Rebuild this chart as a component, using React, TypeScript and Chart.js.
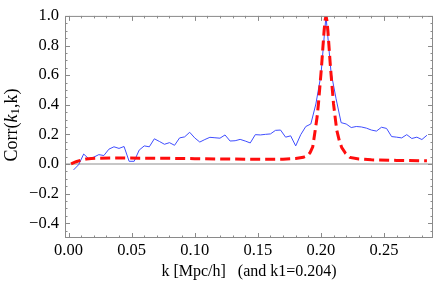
import { useEffect, useRef } from "react";
import { Chart, registerables } from "chart.js";

Chart.register(...registerables);

// k grid of the measured correlation (Mpc/h)
const kValues = [
  0.004, 0.008, 0.012, 0.016, 0.020, 0.024, 0.028, 0.032, 0.036, 0.040,
  0.044, 0.048, 0.052, 0.056, 0.060, 0.064, 0.068, 0.072, 0.076, 0.080,
  0.084, 0.088, 0.092, 0.096, 0.100, 0.104, 0.108, 0.112, 0.116, 0.120,
  0.124, 0.128, 0.132, 0.136, 0.140, 0.144, 0.148, 0.152, 0.156, 0.160,
  0.164, 0.168, 0.172, 0.176, 0.180, 0.184, 0.188, 0.192, 0.196, 0.200,
  0.204, 0.208, 0.212, 0.216, 0.220, 0.224, 0.228, 0.232, 0.236, 0.240,
  0.244, 0.248, 0.252, 0.256, 0.260, 0.264, 0.268, 0.272, 0.276, 0.280,
  0.284,
];

// measured Corr(k1,k) (blue)
const measuredCorr = [
  -0.04, -0.005, 0.067, 0.035, 0.046, 0.063, 0.057, 0.100, 0.116, 0.105,
  0.118, 0.018, 0.018, 0.094, 0.122, 0.116, 0.170, 0.152, 0.133, 0.144,
  0.126, 0.176, 0.183, 0.214, 0.176, 0.148, 0.165, 0.180, 0.177, 0.174,
  0.196, 0.155, 0.157, 0.166, 0.155, 0.142, 0.198, 0.196, 0.200, 0.203,
  0.227, 0.229, 0.181, 0.190, 0.122, 0.198, 0.253, 0.270, 0.405, 0.600,
  1.000, 0.620, 0.440, 0.279, 0.270, 0.246, 0.253, 0.250, 0.242, 0.229,
  0.222, 0.248, 0.240, 0.185, 0.181, 0.176, 0.198, 0.172, 0.181, 0.165,
  0.194,
];

// model curve (red dashed)
const modelK = [
  0.002, 0.006, 0.010, 0.014, 0.018, 0.024, 0.040, 0.060, 0.080, 0.100,
  0.120, 0.140, 0.155, 0.170, 0.180, 0.186, 0.1895, 0.1915, 0.1935, 0.1955,
  0.197, 0.198, 0.1993, 0.2005, 0.2015, 0.2025, 0.2033, 0.204, 0.2047, 0.2055,
  0.2065, 0.2075, 0.2087, 0.2100, 0.2112, 0.2125, 0.2145, 0.2165, 0.2195, 0.2230,
  0.2300, 0.2400, 0.2600, 0.2840,
];
const modelCorr = [
  0.000, 0.015, 0.026, 0.033, 0.037, 0.039, 0.040, 0.039, 0.038, 0.036,
  0.034, 0.032, 0.031, 0.032, 0.037, 0.045, 0.057, 0.078, 0.115, 0.230,
  0.320, 0.405, 0.536, 0.660, 0.780, 0.900, 0.970, 1.000, 0.970, 0.900,
  0.780, 0.660, 0.536, 0.405, 0.320, 0.230, 0.160, 0.110, 0.072, 0.044,
  0.034, 0.028, 0.024, 0.021,
];

const xTickValues = [0.0, 0.05, 0.1, 0.15, 0.2, 0.25];
const yTickValues = [-0.4, -0.2, 0.0, 0.2, 0.4, 0.6, 0.8, 1.0];

const X_MIN = -0.0028;
const X_MAX = 0.2888;
const Y_MIN = -0.5;
const Y_MAX = 1.0;

const SERIF = "'Liberation Serif', 'DejaVu Serif', serif";
const TICK_SIZE = 16.5;
const TITLE_SIZE = 16;
const YTITLE_SIZE = 18;
const FRAME_COLOR = "#8a8a8a";

const framePlugin = {
  id: "mmaFrame",
  beforeDatasetsDraw(chart: any) {
    const { ctx, chartArea, scales } = chart;
    const y0 = scales.y.getPixelForValue(0);
    ctx.save();
    ctx.strokeStyle = "#b4b4b4";
    ctx.lineWidth = 1.5;
    ctx.beginPath();
    ctx.moveTo(chartArea.left, y0);
    ctx.lineTo(chartArea.right, y0);
    ctx.stroke();
    ctx.restore();
  },
  afterDatasetsDraw(chart: any) {
    const { ctx, chartArea, scales } = chart;
    const { left, right, top, bottom } = chartArea;
    ctx.save();
    ctx.strokeStyle = FRAME_COLOR;
    ctx.lineWidth = 1;
    ctx.strokeRect(left + 0.5, top + 0.5, right - left - 1, bottom - top - 1);

    ctx.beginPath();
    for (let i = 0; i <= 28; i++) {
      const v = i * 0.01;
      const px = Math.round(scales.x.getPixelForValue(v)) + 0.5;
      if (px < left || px > right) continue;
      const len = i % 5 === 0 ? 5 : 2.5;
      ctx.moveTo(px, bottom);
      ctx.lineTo(px, bottom - len);
      ctx.moveTo(px, top);
      ctx.lineTo(px, top + len);
    }
    for (let i = -10; i <= 20; i++) {
      const v = i * 0.05;
      const py = Math.round(scales.y.getPixelForValue(v)) + 0.5;
      if (py < top || py > bottom) continue;
      const len = i % 4 === 0 ? 5 : 2.5;
      ctx.moveTo(left, py);
      ctx.lineTo(left + len, py);
      ctx.moveTo(right, py);
      ctx.lineTo(right - len, py);
    }
    ctx.stroke();

    ctx.fillStyle = "#000";
    ctx.textBaseline = "middle";
    ctx.textAlign = "center";
    ctx.font = `${TITLE_SIZE}px ${SERIF}`;
    ctx.fillText("k [Mpc/h]   (and k1=0.204)", (left + right) / 2, 272);

    const parts = [
      { t: "Corr(", f: `${YTITLE_SIZE}px ${SERIF}`, dy: 0 },
      { t: "k", f: `italic ${YTITLE_SIZE}px ${SERIF}`, dy: 0 },
      { t: "1", f: `${YTITLE_SIZE * 0.72}px ${SERIF}`, dy: 4 },
      { t: ",k)", f: `${YTITLE_SIZE}px ${SERIF}`, dy: 0 },
    ];
    let total = 0;
    const widths: number[] = [];
    for (const p of parts) {
      ctx.font = p.f;
      const w = ctx.measureText(p.t).width;
      widths.push(w);
      total += w;
    }
    ctx.translate(12, (top + bottom) / 2 - 2);
    ctx.rotate(-Math.PI / 2);
    ctx.textAlign = "left";
    let x = -total / 2;
    parts.forEach((p, i) => {
      ctx.font = p.f;
      ctx.fillText(p.t, x, p.dy);
      x += widths[i];
    });
    ctx.restore();
  },
};

export default function App() {
  const canvasRef = useRef<HTMLCanvasElement | null>(null);

  useEffect(() => {
    document.body.style.margin = "0";
    const canvas = canvasRef.current;
    if (!canvas) return;

    const chart = new Chart(canvas, {
      type: "line",
      data: {
        datasets: [
          {
            label: "model",
            data: modelK.map((k, i) => ({ x: k, y: modelCorr[i] })),
            borderColor: "#ff0d0d",
            borderWidth: 3,
            borderDash: [10, 5],
            pointRadius: 0,
            tension: 0,
            fill: false,
            order: 0,
          },
          {
            label: "measured",
            data: kValues.map((k, i) => ({ x: k, y: measuredCorr[i] })),
            borderColor: "#3f4dff",
            borderWidth: 1,
            pointRadius: 0,
            tension: 0,
            fill: false,
            order: 1,
          },
        ],
      },
      options: {
        responsive: false,
        animation: false,
        devicePixelRatio: 1,
        layout: { padding: { top: 9, right: 3, left: 0, bottom: 0 } },
        plugins: {
          legend: { display: false },
          tooltip: { enabled: false },
          title: { display: false },
        },
        scales: {
          x: {
            type: "linear",
            min: X_MIN,
            max: X_MAX,
            grid: { display: false, drawTicks: false },
            border: { display: false },
            afterBuildTicks: (scale: any) => {
              scale.ticks = xTickValues.map((v) => ({ value: v }));
            },
            afterFit: (scale: any) => {
              scale.height = 48;
            },
            ticks: {
              color: "#000",
              padding: 3,
              maxRotation: 0,
              autoSkip: false,
              font: { family: SERIF, size: TICK_SIZE },
              callback: (v: any) => Number(v).toFixed(2),
            },
          },
          y: {
            type: "linear",
            min: Y_MIN,
            max: Y_MAX,
            grid: { display: false, drawTicks: false },
            border: { display: false },
            afterBuildTicks: (scale: any) => {
              scale.ticks = yTickValues.map((v) => ({ value: v }));
            },
            afterFit: (scale: any) => {
              scale.width = 65;
            },
            ticks: {
              color: "#000",
              padding: 6,
              autoSkip: false,
              font: { family: SERIF, size: TICK_SIZE },
              callback: (v: any) => {
                const n = Number(v);
                const s = Math.abs(n).toFixed(1);
                return n < -1e-9 ? "\u2212" + s : s;
              },
            },
          },
        },
      },
      plugins: [framePlugin],
    });

    return () => chart.destroy();
  }, []);

  return (
    <div style={{ width: 436, height: 286 }}>
      <canvas ref={canvasRef} width={436} height={286} />
    </div>
  );
}
